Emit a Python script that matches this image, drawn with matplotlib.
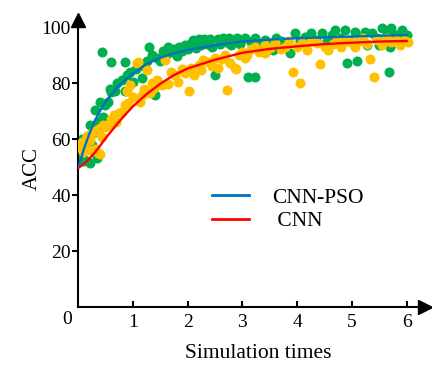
import numpy as np
import matplotlib
matplotlib.use("Agg")
import matplotlib.pyplot as plt
from matplotlib.lines import Line2D

plt.rcParams['font.family'] = ['Liberation Serif', 'DejaVu Serif']

# scatter of CNN-PSO runs (green)
green_x = [0.02, 0.05, 0.08, 0.10, 0.13, 0.15, 0.18, 0.22, 0.22, 0.25, 0.28, 0.31, 0.34, 0.36, 0.40,
           0.44, 0.46, 0.50, 0.55, 0.58, 0.61, 0.61, 0.67, 0.72, 0.80, 0.85, 0.86, 0.90, 0.95, 1.01,
           1.05, 1.10, 1.16, 1.20, 1.25, 1.30, 1.35, 1.40, 1.45, 1.50, 1.55, 1.60, 1.65, 1.70, 1.75,
           1.80, 1.85, 1.90, 1.95, 2.00, 2.05, 2.10, 2.15, 2.20, 2.25, 2.30, 2.35, 2.40, 2.45, 2.50,
           2.55, 2.60, 2.65, 2.70, 2.75, 2.80, 2.85, 2.90, 2.95, 3.05, 3.10, 3.15, 3.23, 3.23, 3.30,
           3.41, 3.50, 3.56, 3.62, 3.70, 3.81, 3.87, 3.96, 4.05, 4.14, 4.26, 4.35, 4.45, 4.55, 4.63,
           4.69, 4.78, 4.87, 4.91, 4.95, 5.06, 5.09, 5.15, 5.24, 5.27, 5.36, 5.45, 5.50, 5.55, 5.63,
           5.68, 5.69, 5.72, 5.80, 5.91, 5.95, 6.00]
green_y = [58, 55, 60, 52, 52.5, 57, 61, 51.3, 65, 58, 62, 70.3, 53.2, 66, 73.3,
           91, 68, 72, 73.3, 78, 87.6, 76.9, 77, 80, 81, 87.6, 77, 83, 84, 80.5,
           85, 86, 81.7, 86, 88, 93, 90, 75.6, 89, 88, 91.5, 90, 92.8, 91, 92,
           89.5, 93, 91.5, 93.5, 92, 94, 95.5, 92.5, 95.8, 93.5, 95.8, 94, 95.8, 93, 82.9,
           95.8, 94, 96, 94.5, 96, 93.5, 95.5, 96, 94, 96, 82.3, 94.5, 96, 82.3, 93.5,
           95.4, 94, 91.8, 96, 95, 94.8, 90.6, 97.7, 95, 96.5, 97.7, 95.5, 97.7, 95, 97.1,
           98.9, 96, 98.9, 87, 95.5, 98.3, 87.8, 96, 98.3, 93.5, 97.7, 96, 93.5, 99.5, 97,
           84, 93, 99.5, 97, 98.9, 96, 97.1]

# scatter of CNN runs (yellow)
yellow_x = [0.02, 0.04, 0.08, 0.10, 0.13, 0.16, 0.20, 0.22, 0.25, 0.28, 0.31, 0.34, 0.36, 0.40, 0.40,
            0.43, 0.46, 0.49, 0.55, 0.60, 0.65, 0.70, 0.74, 0.80, 0.85, 0.89, 0.92, 0.95, 1.00, 1.07,
            1.10, 1.13, 1.16, 1.20, 1.25, 1.31, 1.35, 1.38, 1.45, 1.53, 1.59, 1.65, 1.70, 1.77, 1.83,
            1.90, 1.95, 2.03, 2.07, 2.12, 2.20, 2.25, 2.29, 2.38, 2.45, 2.50, 2.56, 2.62, 2.68, 2.72,
            2.78, 2.86, 2.88, 2.93, 2.99, 3.04, 3.08, 3.15, 3.23, 3.30, 3.41, 3.41, 3.50, 3.60, 3.70,
            3.78, 3.85, 3.92, 4.00, 4.05, 4.08, 4.17, 4.25, 4.36, 4.42, 4.50, 4.57, 4.65, 4.72, 4.80,
            4.88, 4.96, 5.05, 5.12, 5.20, 5.28, 5.32, 5.41, 5.45, 5.55, 5.63, 5.72, 5.80, 5.88, 5.95,
            6.02]
yellow_y = [57, 57.8, 59, 55.4, 58.4, 61, 56, 59.6, 62, 62.6, 56.6, 63.2, 55, 63.8, 54.8,
            60.8, 65, 64.4, 65, 67, 68.6, 66, 69.2, 69.8, 72, 77, 72.8, 79.3, 75, 87,
            87.6, 73.3, 75.7, 78, 84.6, 76.3, 80, 78.1, 81, 79.3, 88.2, 79.8, 84, 82.9, 80.5,
            85, 83.5, 77.3, 85.3, 83, 86.5, 84.5, 88.2, 87.6, 86, 89, 85.3, 88.5, 90, 77.5,
            87, 85.3, 85, 90, 91.2, 88.8, 90, 92, 93, 91, 93.5, 90.6, 92.5, 94.2, 92,
            93, 95, 84, 93, 80, 94.2, 91.8, 95, 94.2, 86.7, 93, 91.8, 94, 95.4, 93,
            95, 94.8, 93, 95, 96, 94, 88.6, 82.3, 95.4, 93.5, 96, 94.5, 95.5, 93.5, 95.5,
            94.8]

# fitted curves
curve_x = [0, 0.1, 0.2, 0.3, 0.4, 0.5, 0.6, 0.75, 0.9, 1.0, 1.25, 1.5, 1.75, 2.0, 2.5,
           3.0, 3.5, 4.0, 4.5, 5.0, 5.5, 6.0]
pso_fit = [49.6, 56, 61.5, 66.3, 69.9, 73.3, 75.7, 79.2, 81.7, 83.4, 86.8, 89, 90.6, 91.8, 93.5,
           94.8, 95.5, 96, 96.3, 96.6, 96.9, 97.1]
cnn_fit = [49.6, 51, 52.8, 55, 57.5, 60.2, 62.6, 66.2, 69.5, 71.6, 76, 79.7, 82.8, 85.2, 88.3,
           90.8, 92.2, 93.1, 93.9, 94.4, 94.8, 95.0]

green = '#00B050'
yellow = '#FFC000'
blue = '#0070C0'
red = '#FF0000'

fig = plt.figure(figsize=(4.32, 3.65), dpi=100)
ax = fig.add_axes([78 / 432, 58 / 365, 347 / 432, 287 / 365])

ax.scatter(green_x, green_y, s=52, color=green, linewidths=0, zorder=2)
ax.scatter(yellow_x, yellow_y, s=52, color=yellow, linewidths=0, zorder=3)
ax.plot(curve_x, pso_fit, color=blue, lw=1.7, zorder=4)
ax.plot(curve_x, cnn_fit, color=red, lw=1.7, zorder=5)

ax.set_xlim(0, 347 / 54.8)
ax.set_ylim(0, 287 / 2.8)

for s in ['top', 'right']:
    ax.spines[s].set_visible(False)
for s in ['left', 'bottom']:
    ax.spines[s].set_linewidth(1.5)

# arrow heads on the axes
ax.plot(1, 0, '>k', ms=10, transform=ax.transAxes, clip_on=False)
ax.plot(0, 1, '^k', ms=10, transform=ax.transAxes, clip_on=False)

ax.set_xticks([1, 2, 3, 4, 5, 6])
ax.set_yticks([20, 40, 60, 80, 100])
ax.tick_params(axis='x', direction='in', length=4, width=1.5, labelsize=14, pad=5)
ax.tick_params(axis='y', direction='out', length=4, width=1.5, labelsize=14, pad=1)
ax.annotate('0', xy=(0, 0), xycoords='data', xytext=(-8, -9), textcoords='offset points',
            ha='center', va='center', fontsize=14)

ax.set_xlabel('Simulation times', fontsize=15.5)
ax.xaxis.set_label_coords(0.519, -0.13)
ax.set_ylabel('ACC', fontsize=15)
ax.yaxis.set_label_coords(-0.105, 0.484)

handles = [Line2D([], [], color=blue, lw=2), Line2D([], [], color=red, lw=2)]
ax.legend(handles, ['CNN-PSO', ' CNN'], frameon=False, fontsize=15.5, loc='upper left',
          bbox_to_anchor=(0.386, 0.415), borderpad=0, borderaxespad=0,
          handlelength=1.7, handletextpad=1.1, labelspacing=0.15)

fig.savefig('out.png', dpi=100)
